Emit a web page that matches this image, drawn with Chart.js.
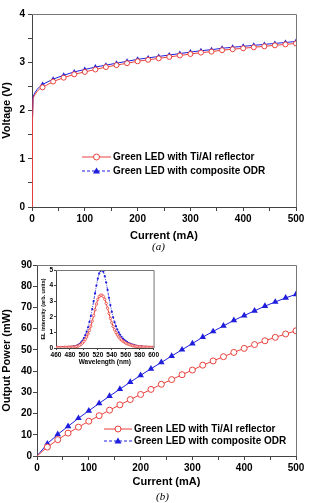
<!DOCTYPE html>
<html>
<head>
<meta charset="utf-8">
<script src="https://cdn.jsdelivr.net/npm/chart.js@4.4.1/dist/chart.umd.min.js"></script>
<style>
  body { margin: 0; background: #fff; }
  #wrap { position: relative; width: 309px; height: 503px; }
  canvas { position: absolute; }
  .cap { position: absolute; font: italic 11px "Liberation Serif", serif; color: #000; }
</style>
</head>
<body>
<div id="wrap">
  <canvas id="chartA" width="309" height="250" style="left:0;top:0;width:309px;height:250px"></canvas>
  <canvas id="chartB" width="309" height="253" style="left:0;top:250px;width:309px;height:253px"></canvas>
  <canvas id="inset" width="124" height="104" style="left:36px;top:264px;width:124px;height:104px"></canvas>
  <div class="cap" style="left:152px;top:240px">(a)</div>
  <div class="cap" style="left:156px;top:490px">(b)</div>
</div>
<script>
// (a) voltage vs current
var currentA = [0, 1, 2, 5, 10, 15, 20, 40, 60, 80, 100, 120, 140, 160, 180, 200, 220, 240, 260, 280, 300, 320, 340, 360, 380, 400, 420, 440, 460, 480, 500];
var voltageTiAl = [0, 1.8, 2.25, 2.32, 2.4, 2.45, 2.48, 2.6, 2.68, 2.75, 2.8, 2.85, 2.9, 2.94, 2.98, 3.02, 3.05, 3.08, 3.11, 3.14, 3.17, 3.2, 3.22, 3.25, 3.27, 3.29, 3.31, 3.33, 3.35, 3.37, 3.39];
var voltageODR = [0, 1.85, 2.28, 2.36, 2.44, 2.5, 2.54, 2.65, 2.73, 2.8, 2.85, 2.9, 2.94, 2.98, 3.02, 3.06, 3.09, 3.12, 3.15, 3.18, 3.21, 3.24, 3.26, 3.29, 3.31, 3.33, 3.35, 3.37, 3.39, 3.41, 3.43];

// (b) output power vs current
var currentB = [0, 20, 40, 60, 80, 100, 120, 140, 160, 180, 200, 220, 240, 260, 280, 300, 320, 340, 360, 380, 400, 420, 440, 460, 480, 500];
var powerTiAl = [0, 4.2, 7.7, 10.8, 13.6, 16.4, 19, 21.6, 24.1, 26.6, 29, 31.4, 33.8, 36, 38.3, 40.5, 42.8, 44.8, 46.8, 48.8, 50.7, 52.5, 54.3, 55.9, 57.5, 59];
var powerODR = [0, 5.8, 10.2, 14, 17.8, 21.3, 24.8, 28.2, 31.5, 34.8, 38, 41.1, 44.1, 47.1, 50.1, 53, 56, 58.7, 61.3, 63.9, 66.2, 68.4, 70.6, 72.6, 74.5, 76.2];

// inset EL spectra
var wavelength = [460, 462, 464, 466, 468, 470, 472, 474, 476, 478, 480, 482, 484, 486, 488, 490, 492, 494, 496, 498, 500, 502, 504, 506, 508, 510, 512, 514, 516, 518, 520, 522, 524, 526, 528, 530, 532, 534, 536, 538, 540, 542, 544, 546, 548, 550, 552, 554, 556, 558, 560, 562, 564, 566, 568, 570, 572, 574, 576, 578, 580, 582, 584, 586, 588, 590, 592, 594, 596, 598, 600];
var elODR = [0.05, 0.05, 0.05, 0.05, 0.05, 0.05, 0.05, 0.06, 0.06, 0.06, 0.07, 0.08, 0.09, 0.1, 0.12, 0.15, 0.2, 0.27, 0.36, 0.48, 0.63, 0.82, 1.05, 1.33, 1.67, 2.05, 2.5, 3.0, 3.5, 4.0, 4.45, 4.78, 4.95, 4.98, 4.88, 4.6, 4.2, 3.72, 3.22, 2.75, 2.33, 1.97, 1.66, 1.4, 1.18, 1.0, 0.85, 0.72, 0.61, 0.52, 0.44, 0.38, 0.32, 0.28, 0.24, 0.21, 0.18, 0.16, 0.14, 0.12, 0.11, 0.1, 0.09, 0.08, 0.07, 0.07, 0.06, 0.06, 0.05, 0.05, 0.05];
var elTiAl = [0.03, 0.03, 0.03, 0.03, 0.03, 0.03, 0.04, 0.04, 0.04, 0.05, 0.05, 0.06, 0.06, 0.07, 0.08, 0.1, 0.13, 0.18, 0.24, 0.32, 0.42, 0.55, 0.71, 0.9, 1.13, 1.4, 1.72, 2.08, 2.45, 2.82, 3.12, 3.3, 3.38, 3.38, 3.3, 3.12, 2.86, 2.55, 2.22, 1.9, 1.62, 1.38, 1.17, 0.99, 0.84, 0.71, 0.6, 0.51, 0.44, 0.38, 0.32, 0.28, 0.24, 0.21, 0.18, 0.15, 0.13, 0.11, 0.1, 0.09, 0.08, 0.07, 0.06, 0.06, 0.05, 0.05, 0.05, 0.04, 0.04, 0.04, 0.04];

var legendNames = ['Green LED with Ti/Al reflector', 'Green LED with composite ODR'];

var RED = '#e8413c';
var BLUE = '#1e1edc';
var AXIS = '#444';
var FRAME = '#777';
var FONT = 'Liberation Sans, Arial, sans-serif';

function pts(xs, ys) {
  return xs.map(function (x, i) { return { x: x, y: ys[i] }; });
}

// markers only every 20 mA
function marked(c) {
  var x = c.raw.x;
  return x >= 20 && x % 20 === 0;
}

// top and right border of the plot box
var framePlugin = {
  id: 'frame',
  afterDraw: function (chart) {
    var a = chart.chartArea, ctx = chart.ctx;
    ctx.save();
    ctx.strokeStyle = FRAME;
    ctx.lineWidth = 1;
    ctx.beginPath();
    ctx.moveTo(a.left, a.top + 0.5);
    ctx.lineTo(a.right + 0.5, a.top + 0.5);
    ctx.lineTo(a.right + 0.5, a.bottom);
    ctx.stroke();
    ctx.restore();
  }
};

// legend drawn inside the plot
var boxLegend = {
  id: 'boxLegend',
  afterDraw: function (chart, args, opts) {
    if (!opts.x) return;
    var ctx = chart.ctx;
    ctx.save();
    chart.data.datasets.forEach(function (ds, i) {
      var y = opts.y + i * opts.dy;
      ctx.strokeStyle = ds.borderColor;
      ctx.lineWidth = 1;
      ctx.setLineDash(i === 1 ? [3, 2] : []);
      ctx.beginPath();
      ctx.moveTo(opts.x, y);
      ctx.lineTo(opts.x + opts.len, y);
      ctx.stroke();
      ctx.setLineDash([]);
      var mx = opts.x + opts.len / 2;
      if (i === 0) {
        ctx.fillStyle = '#fff';
        ctx.beginPath();
        ctx.arc(mx, y, 3, 0, Math.PI * 2);
        ctx.fill();
        ctx.stroke();
      } else {
        ctx.fillStyle = ds.borderColor;
        ctx.beginPath();
        ctx.moveTo(mx, y - 3.5);
        ctx.lineTo(mx + 3.5, y + 2.5);
        ctx.lineTo(mx - 3.5, y + 2.5);
        ctx.closePath();
        ctx.fill();
      }
      ctx.fillStyle = '#000';
      ctx.font = 'bold 10px ' + FONT;
      ctx.textBaseline = 'middle';
      ctx.fillText(ds.label, opts.x + opts.len + 2, y + 0.5);
    });
    ctx.restore();
  }
};

function mainSets(xs, y1, y2, rc, rt) {
  return [
    {
      label: legendNames[0], data: pts(xs, y1),
      borderColor: RED, backgroundColor: '#fff', borderWidth: 1,
      pointStyle: 'circle', pointRadius: function (c) { return marked(c) ? rc : 0; },
      pointBorderWidth: 1, tension: 0
    },
    {
      label: legendNames[1], data: pts(xs, y2),
      borderColor: BLUE, backgroundColor: BLUE, borderWidth: 1,
      pointStyle: 'triangle', pointRadius: function (c) { return marked(c) ? rt : 0; },
      pointBorderWidth: 0, tension: 0
    }
  ];
}

function mainOptions(cfg) {
  return {
    responsive: false,
    animation: false,
    layout: { padding: { left: 0, top: cfg.top, right: cfg.right, bottom: 0 } },
    plugins: {
      legend: { display: false },
      tooltip: { enabled: false },
      boxLegend: cfg.legend
    },
    scales: {
      x: {
        type: 'linear', min: 0, max: 500,
        afterFit: function (s) { s.height = cfg.xh; },
        grid: { drawOnChartArea: false, tickLength: 4, color: AXIS },
        border: { color: AXIS, width: 1 },
        ticks: {
          stepSize: 50, padding: 2, color: '#000', maxRotation: 0,
          font: { family: FONT, size: 10, weight: 'bold' },
          callback: function (v) { return v % 100 === 0 ? v : ''; }
        },
        title: { display: true, text: 'Current (mA)', color: '#000', padding: { top: 0, bottom: cfg.titlePad },
          font: { family: FONT, size: 11, weight: 'bold' } }
      },
      y: {
        min: 0, max: cfg.ymax,
        afterFit: function (s) { s.width = cfg.yw; },
        grid: { drawOnChartArea: false, tickLength: 4, color: AXIS },
        border: { color: AXIS, width: 1 },
        ticks: {
          stepSize: cfg.ystep / 2, padding: cfg.ypad, color: '#000',
          font: { family: FONT, size: 10, weight: 'bold' },
          callback: function (v) { return Math.abs(v / cfg.ystep - Math.round(v / cfg.ystep)) < 1e-6 ? v : ''; }
        },
        title: { display: true, text: cfg.ytitle, color: '#000', padding: 0,
          font: { family: FONT, size: 11, weight: 'bold' } }
      }
    }
  };
}

new Chart(document.getElementById('chartA'), {
  type: 'line',
  data: { datasets: mainSets(currentA, voltageTiAl, voltageODR, 2.5, 3) },
  options: mainOptions({
    top: 14, right: 13, xh: 43, yw: 32, titlePad: 7, ymax: 4, ystep: 1, ypad: 3,
    ytitle: 'Voltage (V)',
    legend: { x: 82, y: 157, dy: 14, len: 29 }
  }),
  plugins: [framePlugin, boxLegend]
});

new Chart(document.getElementById('chartB'), {
  type: 'line',
  data: { datasets: mainSets(currentB, powerTiAl, powerODR, 3, 3.8) },
  options: mainOptions({
    top: 15, right: 13, xh: 47, yw: 37, titlePad: 14, ymax: 90, ystep: 10, ypad: 1,
    ytitle: 'Output Power (mW)',
    legend: { x: 104, y: 179, dy: 12, len: 28 }
  }),
  plugins: [framePlugin, boxLegend]
});

new Chart(document.getElementById('inset'), {
  type: 'line',
  data: {
    datasets: [
      {
        label: legendNames[0], data: pts(wavelength, elTiAl),
        borderColor: RED, backgroundColor: '#fff', borderWidth: 1,
        pointRadius: 1.2, pointBorderWidth: 0.8, tension: 0
      },
      {
        label: legendNames[1], data: pts(wavelength, elODR),
        borderColor: BLUE, backgroundColor: BLUE, borderWidth: 0.8, borderDash: [3, 1, 1, 1],
        pointRadius: 1.1, pointBorderWidth: 0, tension: 0
      }
    ]
  },
  options: {
    responsive: false,
    animation: false,
    layout: { padding: { left: 0, top: 6, right: 5, bottom: 0 } },
    plugins: { legend: { display: false }, tooltip: { enabled: false } },
    scales: {
      x: {
        type: 'linear', min: 460, max: 600,
        afterFit: function (s) { s.height = 20; },
        grid: { drawOnChartArea: false, tickLength: 2, color: AXIS },
        border: { color: AXIS, width: 1 },
        ticks: { stepSize: 20, padding: 1, color: '#000', maxRotation: 0, autoSkip: false,
          font: { family: FONT, size: 6.5, weight: 'bold' } },
        title: { display: true, text: 'Wavelength (nm)', color: '#000', padding: { top: 0, bottom: 2 },
          font: { family: FONT, size: 6.5, weight: 'bold' } }
      },
      y: {
        min: 0, max: 5,
        afterFit: function (s) { s.width = 20; },
        grid: { drawOnChartArea: false, tickLength: 2, color: AXIS },
        border: { color: AXIS, width: 1 },
        ticks: { stepSize: 1, padding: 1, color: '#000',
          font: { family: FONT, size: 6.5, weight: 'bold' } },
        title: { display: true, text: 'EL intensity (arb. units)', color: '#000', padding: { top: 4, bottom: 0 },
          font: { family: FONT, size: 5.5, weight: 'bold' } }
      }
    }
  },
  plugins: [framePlugin]
});
</script>
</body>
</html>
